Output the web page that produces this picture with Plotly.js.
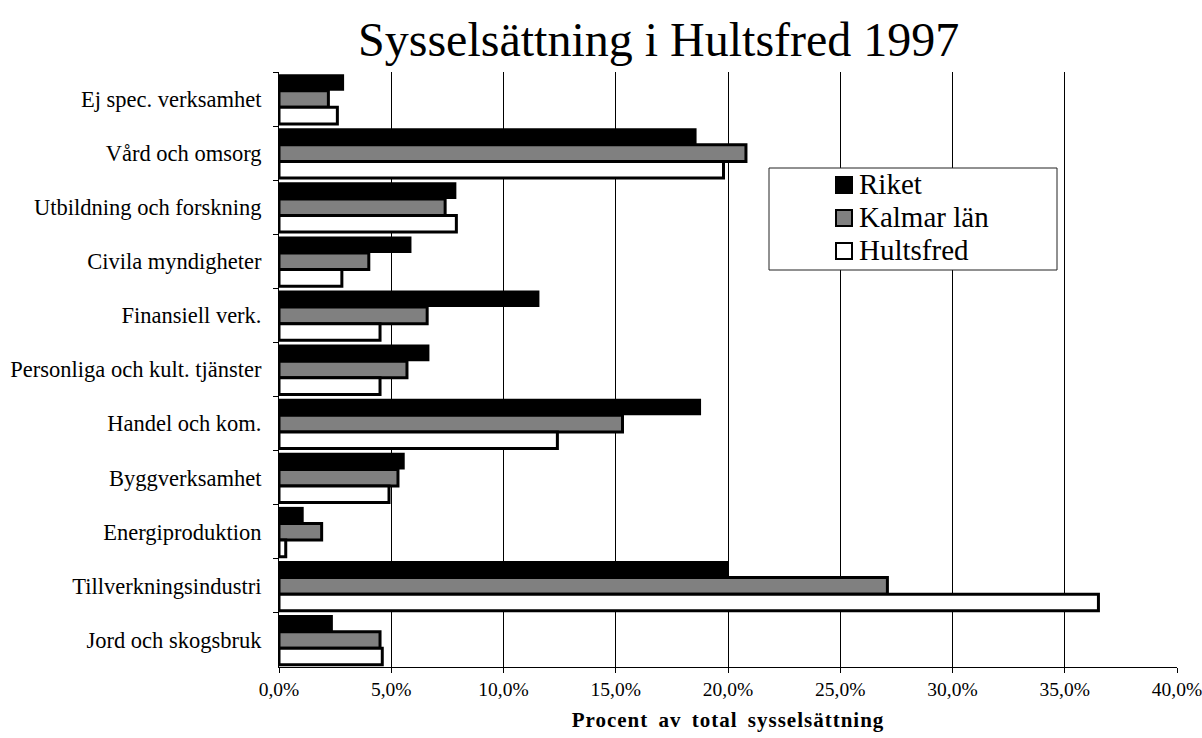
<!DOCTYPE html>
<html>
<head>
<meta charset="utf-8">
<script src="https://cdn.plot.ly/plotly-3.0.1.min.js"></script>
<style>
html,body{margin:0;padding:0;background:#fff;}
#chart{width:1202px;height:738px;}
.xtitle{letter-spacing:1px;word-spacing:4px;}
</style>
</head>
<body>
<div id="chart"></div>
<script>
const categories = ["Ej spec. verksamhet","Vård och omsorg","Utbildning och forskning","Civila myndigheter","Finansiell verk.","Personliga och kult. tjänster","Handel och kom.","Byggverksamhet","Energiproduktion","Tillverkningsindustri","Jord och skogsbruk"];
const seriesNames = ["Riket","Kalmar län","Hultsfred"];
const riket     = [2.9, 18.6, 7.9, 5.9, 11.6, 6.7, 18.8, 5.6, 1.1, 20.0, 2.4];
const kalmar    = [2.2, 20.8, 7.4, 4.0, 6.6, 5.7, 15.3, 5.3, 1.9, 27.1, 4.5];
const hultsfred = [2.6, 19.8, 7.9, 2.8, 4.5, 4.5, 12.4, 4.9, 0.3, 36.5, 4.6];
const xTickVals = [0,5,10,15,20,25,30,35,40];
const xTickText = xTickVals.map(v => v.toFixed(1).replace(".", ",") + "%");

const FONT = "Liberation Serif, Times New Roman, serif";
const fills = ["#000000", "#808080", "#ffffff"];
const lineW = [0, 3, 3];
const seriesValues = [riket, kalmar, hultsfred];

const traces = seriesNames.map((nm, i) => ({
  type:"bar", orientation:"h", name:nm, y:categories, x:seriesValues[i],
  marker:{color:fills[i], line:{color:"#000000", width:lineW[i]}}
}));

// pixel -> paper helpers for the legend box (plot area: x 279..1177, y 72..667)
const M = {l:279, r:25, t:72, b:71};
const PW = 1202 - M.l - M.r, PH = 738 - M.t - M.b;
const px2x = p => (p - M.l) / PW;
const px2y = p => (738 - M.b - p) / PH;

const shapes = [
  {type:"rect", xref:"paper", yref:"paper", x0:px2x(769), x1:px2x(1057), y0:px2y(270), y1:px2y(168),
   fillcolor:"#ffffff", line:{color:"#222", width:1}, layer:"above"}
];
const annotations = [];
const legTop = 176, legStep = 33, sq = 18;
seriesNames.forEach((nm, i) => {
  const top = legTop + i * legStep;
  shapes.push({type:"rect", xref:"paper", yref:"paper",
    x0:px2x(835 + (i ? 1 : 0)), x1:px2x(853 - (i ? 1 : 0)),
    y0:px2y(top + sq - (i ? 1 : 0)), y1:px2y(top + (i ? 1 : 0)),
    fillcolor:fills[i], line:{color:"#000", width:i ? 2 : 0}, layer:"above"});
  annotations.push({xref:"paper", yref:"paper", x:px2x(857), y:px2y(top + 8),
    xanchor:"left", yanchor:"middle", showarrow:false, text:nm,
    font:{family:FONT, size:29, color:"#000"}});
});

const layout = {
  width:1202, height:738,
  margin:M,
  paper_bgcolor:"#fff", plot_bgcolor:"#fff",
  barmode:"group", bargap:0.08, bargroupgap:0,
  font:{family:FONT, color:"#000", size:20},
  title:{text:"Sysselsättning i Hultsfred 1997", font:{family:FONT, size:48, color:"#000"},
         x:0.548, xanchor:"center", y:0.947, yanchor:"middle"},
  xaxis:{range:[0,40], tickmode:"array", tickvals:xTickVals, ticktext:xTickText,
         showgrid:true, gridcolor:"#000", gridwidth:1, zeroline:false,
         showline:true, linecolor:"#000", linewidth:1,
         ticks:"outside", ticklen:5, tickcolor:"#000", ticklabeloverflow:"allow",
         tickfont:{family:FONT, size:19.5, color:"#000"},
         title:{text:"Procent av total sysselsättning", standoff:12,
                font:{family:FONT, size:21, color:"#000", weight:"bold"}},
         fixedrange:true},
  yaxis:{type:"category", autorange:"reversed", showgrid:false, zeroline:false,
         showline:true, linecolor:"#000", linewidth:1,
         ticks:"outside", ticklen:5, tickcolor:"#000", tickson:"boundaries",
         ticklabelstandoff:12,
         tickfont:{family:FONT, size:22.5, color:"#000"}, fixedrange:true},
  showlegend:false,
  shapes:shapes,
  annotations:annotations
};

Plotly.newPlot("chart", traces, layout, {displayModeBar:false, staticPlot:true});
</script>
</body>
</html>
